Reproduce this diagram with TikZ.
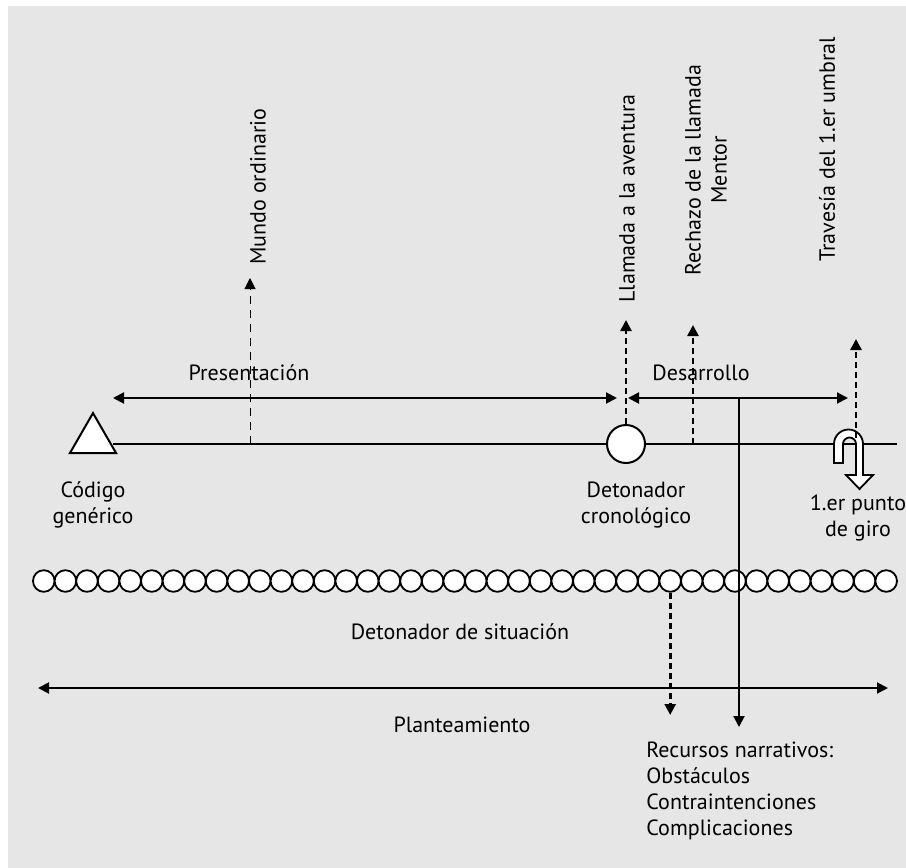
\documentclass[tikz,border=0pt]{standalone}
\usepackage{fontspec}
\setmainfont{PT Sans}
\usetikzlibrary{arrows.meta,positioning,calc,shapes.geometric}
\definecolor{bg}{HTML}{E6E6E6}

\begin{document}
\begin{tikzpicture}[x=0.5pt,y=-0.5pt,
    font=\fontsize{11}{13}\selectfont,
    tip/.style={-{Triangle[length=5.5pt,width=5.5pt]}},
    both/.style={{Triangle[length=5.5pt,width=5.5pt]}-{Triangle[length=5.5pt,width=5.5pt]}},
    axis/.style={line width=1pt},
    dashthick/.style={line width=1.3pt, dash pattern=on 3pt off 2pt},
    dashthin/.style={line width=0.5pt, dash pattern=on 4pt off 3pt},
    vlabel/.style={rotate=90, anchor=west, inner sep=0pt},
    blabel/.style={align=center, inner sep=0pt},
    bead/.style={circle, draw, fill=white, line width=0.9pt, minimum size=10.8pt, inner sep=0pt}
]
    % Background
    \useasboundingbox (0,0) rectangle (906,868);
    \fill[bg] (8,6) rectangle (906,868);

    % Timeline
    \coordinate (tlstart) at (113,444);
    \coordinate (tlend) at (897,444);
    \draw[axis] (tlstart) -- (tlend);

    \node[regular polygon, regular polygon sides=3, draw, fill=white, line width=1pt,
          minimum size=26.6pt, inner sep=0pt] (gen) at (93,439.7) {};
    \node[circle, draw, fill=white, line width=1pt, minimum size=19pt, inner sep=0pt] (chrono) at (626,444) {};

    % Turning point symbol
    \draw[line width=0.9pt, fill=white]
        (834,463) -- (834,444) arc[start angle=180, end angle=360, radius=14.5]
        -- (863,475) -- (873,475) -- (859.5,489) -- (846,475) -- (856,475) -- (856,444)
        arc[start angle=360, end angle=180, radius=6.5] -- (843,463) -- cycle;
    \coordinate (turn) at (856,437.5);

    % Sections
    \coordinate (pres-l) at (113,398);
    \coordinate (pres-r) at (617,398);
    \coordinate (desa-l) at (628,398);
    \coordinate (desa-r) at (848,398);
    \draw[axis, both] (pres-l) -- (pres-r);
    \draw[axis, both] (desa-l) -- (desa-r);
    \node (pres) at (249,373) {Presentación};
    \node (desa) at (701,373) {Desarrollo};

    % Events above
    \coordinate (mundo) at (250,444);
    \coordinate (mundo-top) at (250,278);
    \draw[dashthin, tip] (mundo) -- (mundo-top);
    \node[vlabel] (mundo-lbl) at (258,265) {Mundo ordinario};

    \coordinate (llam-top) at (626,320);
    \draw[dashthick, tip] (chrono.north) -- (llam-top);
    \node[vlabel] (llam-lbl) at (627,303) {Llamada a la aventura};

    \coordinate (rech) at (693,444);
    \coordinate (rech-top) at (693,325);
    \draw[dashthick, tip] (rech) -- (rech-top);
    \node[rotate=90, align=center, inner sep=0pt] (rech-lbl) at (706,170) {Rechazo de la llamada\\Mentor};

    \coordinate (trav-top) at (856,339);
    \draw[dashthick, tip] (turn) -- (trav-top);
    \node[vlabel] (trav-lbl) at (827,262) {Travesía del 1.er umbral};

    % Labels below the timeline
    \node[blabel] (gen-lbl) at (93,505) {Código\\genérico};
    \node[blabel] (chrono-lbl) at (636,505) {Detonador\\cronológico};
    \node[blabel] (turn-lbl) at (858,518) {1.er punto\\de giro};

    % Situation beads
    \foreach \i in {0,...,39}
        \node[bead] (b\i) at ({43.8+21.6*\i},581) {};
    \node (sit) at (460,632) {Detonador de situación};

    % Planteamiento
    \coordinate (plan-l) at (38,688);
    \coordinate (plan-r) at (888,688);
    \draw[axis, both] (plan-l) -- (plan-r);
    \node (plan) at (462,725) {Planteamiento};

    \coordinate (sit-end) at (670,715);
    \draw[dashthick, tip] (b29.south) -- (b29 |- sit-end);

    \coordinate (rec-top) at (739,398);
    \coordinate (rec-end) at (739,727);
    \draw[axis, tip] (rec-top) -- (rec-end);
    \node[align=left, anchor=north west, inner sep=0pt] (rec) at (646,742)
        {Recursos narrativos:\\Obstáculos\\Contraintenciones\\Complicaciones};
\end{tikzpicture}
\end{document}
